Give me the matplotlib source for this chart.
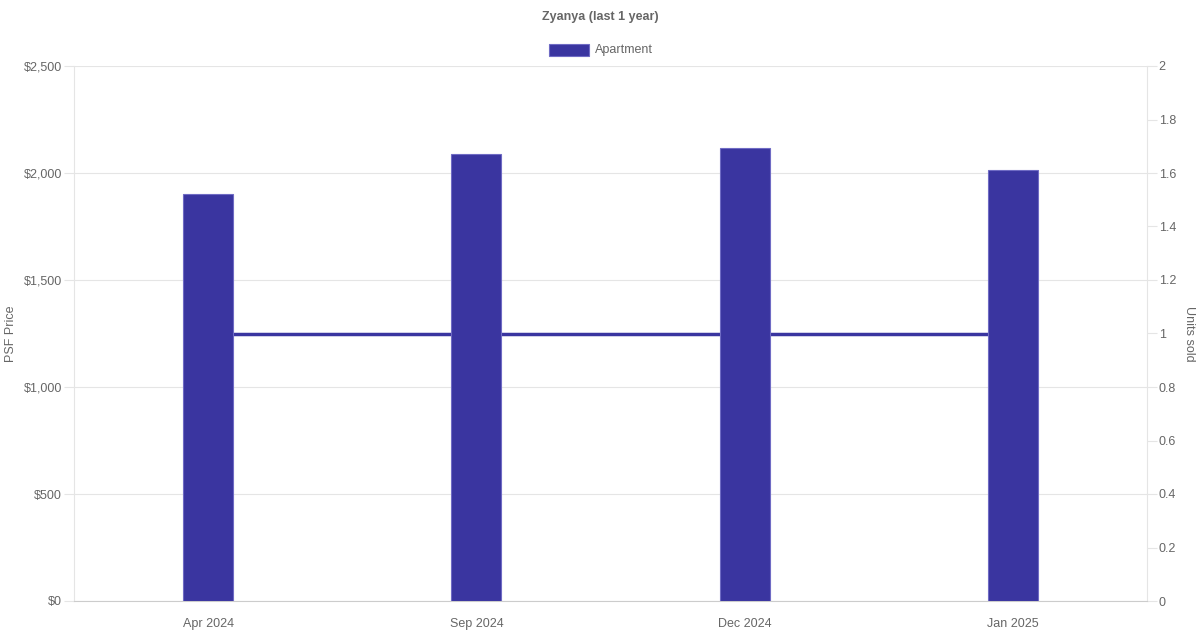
import matplotlib
matplotlib.use("Agg")
import matplotlib.pyplot as plt
from matplotlib.patches import Rectangle
from matplotlib.ticker import FuncFormatter, MultipleLocator

categories = ["Apr 2024", "Sep 2024", "Dec 2024", "Jan 2025"]
psf_price = [1902, 2088, 2118, 2014]
units_sold = [1, 1, 1, 1]

plt.rcParams['font.family'] = ['Liberation Sans', 'DejaVu Sans']
TXT = "#666666"
BAR = "#3a35a0"
EDGE = "#6f6bc4"
GRID = "#e5e5e5"

fig = plt.figure(figsize=(12, 6.3), dpi=100)
W, H = 1200, 630
ax = fig.add_axes([74 / W, 1 - 601 / H, (1147 - 74) / W, (601 - 66) / H])
ax2 = ax.twinx()
ax.set_zorder(ax2.get_zorder() + 1)
ax.patch.set_visible(False)

x = list(range(len(categories)))
ax.bar(x, psf_price, width=0.186, color=BAR, edgecolor=EDGE, linewidth=0.8, zorder=3)
ax.set_xlim(-0.5, len(categories) - 0.5)
ax.set_ylim(0, 2500)
ax.yaxis.set_major_locator(MultipleLocator(500))
ax.yaxis.set_major_formatter(FuncFormatter(lambda v, p: f"${v:,.0f}"))
ax.set_xticks(x)
ax.set_xticklabels(categories)
ax.grid(axis='y', color=GRID, linewidth=0.8)
ax.set_axisbelow(True)

ax2.plot(x, units_sold, color=BAR, linewidth=2.5, zorder=1)
ax2.set_ylim(0, 2)
ax2.yaxis.set_major_locator(MultipleLocator(0.2))
ax2.yaxis.set_major_formatter(FuncFormatter(lambda v, p: f"{v:g}"))

for a in (ax, ax2):
    for s in a.spines.values():
        s.set_visible(False)
    a.tick_params(colors=GRID, labelcolor=TXT, labelsize=9, length=7, width=0.8, pad=1.5)
ax.tick_params(axis='x', length=0, pad=12)
ax.spines['left'].set_visible(True)
ax.spines['left'].set_color(GRID)
ax.spines['bottom'].set_visible(True)
ax.spines['bottom'].set_color("#cccccc")
ax2.spines['right'].set_visible(True)
ax2.spines['right'].set_color(GRID)

fig.text(11 / W, 1 - 334 / H, "PSF Price", rotation=90, ha='center', va='center',
         fontsize=9, color=TXT)
fig.text(1189 / W, 1 - 334 / H, "Units sold", rotation=270, ha='center', va='center',
         fontsize=9, color=TXT)

fig.text(600 / W, 1 - 17 / H, "Zyanya (last 1 year)", ha='center', va='center',
         fontsize=9, fontweight='bold', color=TXT)
fig.patches.append(Rectangle((549 / W, 1 - 56 / H), 40 / W, 12 / H, transform=fig.transFigure,
                             facecolor=BAR, edgecolor=EDGE, linewidth=0.8))
fig.text(595 / W, 1 - 50 / H, "Apartment", ha='left', va='center', fontsize=9, color=TXT)

fig.savefig("out.png", dpi=100, facecolor="white")
